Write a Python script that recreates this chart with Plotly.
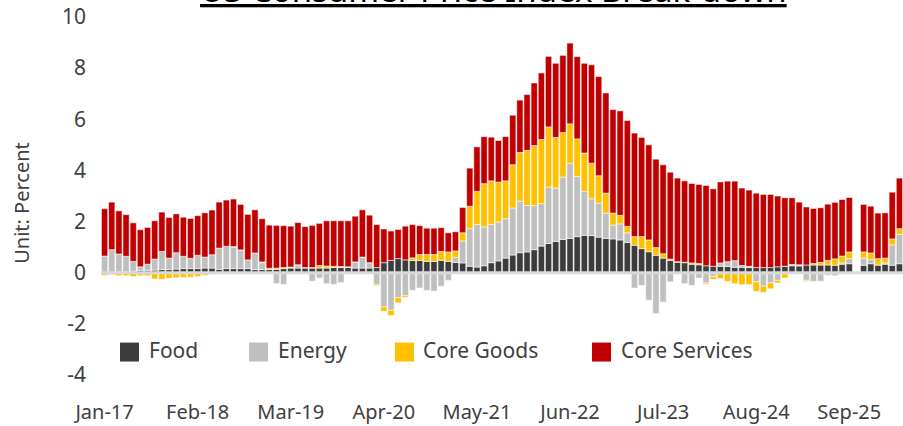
import pandas as pd
import plotly.graph_objects as go

# Month categories Jan-17 .. Apr-26 (Oct-25 has no data)
months = list(pd.date_range("2017-01-01", periods=112, freq="MS").strftime("%b-%y"))
tick_labels = ["Jan-17", "Feb-18", "Mar-19", "Apr-20", "May-21", "Jun-22", "Jul-23", "Aug-24", "Sep-25"]
y_ticks = [-4, -2, 0, 2, 4, 6, 8, 10]
y_tick_text = ["-4", "-2", "0", "2", "4", "6", "8", "10"]

food = [
    0.02, 0.02, 0.03, 0.03, 0.05, 0.09, 0.09, 0.10, 0.12, 0.12, 0.14, 0.16,
    0.16, 0.16, 0.18, 0.18, 0.13, 0.16, 0.16, 0.16, 0.16, 0.12, 0.12, 0.12,
    0.13, 0.16, 0.18, 0.18, 0.18, 0.18, 0.18, 0.18, 0.20, 0.20, 0.20, 0.18,
    0.18, 0.18, 0.20, 0.39, 0.48, 0.55, 0.50, 0.48, 0.48, 0.44, 0.44, 0.48,
    0.44, 0.40, 0.38, 0.25, 0.22, 0.27, 0.39, 0.46, 0.57, 0.69, 0.78, 0.81,
    0.90, 1.04, 1.14, 1.22, 1.30, 1.34, 1.41, 1.46, 1.45, 1.39, 1.34, 1.32,
    1.28, 1.18, 1.07, 0.94, 0.82, 0.68, 0.57, 0.48, 0.41, 0.39, 0.33, 0.31,
    0.27, 0.25, 0.25, 0.24, 0.21, 0.21, 0.20, 0.20, 0.20, 0.20, 0.23, 0.25,
    0.27, 0.26, 0.30, 0.30, 0.30, 0.30, 0.29, 0.33, 0.35, None, 0.29, 0.35,
    0.30, 0.33, 0.29, 0.35,
]

energy = [
    0.63, 0.88, 0.70, 0.61, 0.39, 0.14, 0.24, 0.43, 0.71, 0.45, 0.64, 0.48,
    0.40, 0.52, 0.43, 0.52, 0.83, 0.87, 0.84, 0.73, 0.34, 0.65, 0.27, -0.02,
    -0.43, -0.46, -0.02, 0.13, -0.05, -0.33, -0.21, -0.43, -0.46, -0.39, -0.05, 0.24,
    0.43, 0.21, -0.46, -1.34, -1.47, -0.98, -0.89, -0.69, -0.60, -0.69, -0.72, -0.53,
    -0.30, 0.19, 0.86, 1.47, 1.67, 1.52, 1.50, 1.52, 1.54, 1.84, 2.02, 1.82,
    1.72, 1.66, 2.21, 2.09, 2.44, 2.94, 2.35, 1.72, 1.44, 1.33, 0.99, 0.54,
    0.63, 0.38, -0.60, -0.50, -1.08, -1.60, -1.15, -0.36, -0.02, -0.43, -0.50, -0.21,
    -0.40, -0.15, 0.13, 0.19, 0.26, 0.07, 0.05, -0.36, -0.53, -0.40, -0.30, 0.00,
    0.05, 0.05, -0.30, -0.34, -0.33, -0.10, -0.12, 0.05, 0.20, None, 0.28, 0.16,
    0.00, 0.05, 0.80, 1.15,
]

core_goods = [
    -0.10, -0.08, -0.12, -0.12, -0.15, -0.12, -0.12, -0.25, -0.26, -0.22, -0.20, -0.19,
    -0.18, -0.15, -0.10, -0.06, -0.04, -0.02, 0.02, 0.00, -0.03, -0.02, 0.03, 0.05,
    0.05, 0.04, 0.04, 0.00, 0.02, 0.02, 0.10, 0.08, 0.05, 0.04, 0.03, 0.00,
    0.00, 0.00, -0.05, -0.17, -0.20, -0.20, -0.07, 0.10, 0.23, 0.27, 0.27, 0.35,
    0.37, 0.26, 0.32, 0.88, 1.29, 1.69, 1.70, 1.56, 1.48, 1.69, 1.90, 2.15,
    2.35, 2.51, 2.35, 1.98, 1.74, 1.54, 1.47, 1.50, 1.39, 1.07, 0.78, 0.47,
    0.33, 0.25, 0.34, 0.47, 0.46, 0.30, 0.17, 0.05, 0.02, 0.02, 0.05, 0.05,
    -0.05, -0.11, -0.23, -0.34, -0.43, -0.47, -0.47, -0.37, -0.24, -0.23, -0.10, -0.21,
    0.00, 0.00, -0.04, 0.06, 0.10, 0.18, 0.25, 0.27, 0.26, None, 0.24, 0.26,
    0.25, 0.19, 0.23, 0.22,
]

core_services = [
    1.85, 1.86, 1.69, 1.63, 1.51, 1.45, 1.44, 1.50, 1.54, 1.59, 1.52, 1.53,
    1.56, 1.55, 1.73, 1.75, 1.80, 1.81, 1.86, 1.78, 1.78, 1.69, 1.69, 1.69,
    1.67, 1.64, 1.60, 1.65, 1.60, 1.65, 1.65, 1.77, 1.78, 1.79, 1.80, 1.79,
    1.85, 1.86, 1.68, 1.32, 1.15, 1.14, 1.32, 1.30, 1.13, 1.03, 1.03, 0.93,
    0.75, 0.75, 0.99, 1.49, 1.74, 1.84, 1.71, 1.63, 1.73, 1.94, 2.05, 2.19,
    2.45, 2.60, 2.76, 2.90, 3.02, 3.16, 3.22, 3.51, 3.85, 3.88, 3.92, 4.05,
    4.09, 4.14, 4.05, 3.88, 3.72, 3.46, 3.48, 3.40, 3.27, 3.18, 3.11, 3.09,
    3.14, 3.03, 3.17, 3.15, 3.11, 3.03, 2.98, 2.91, 2.86, 2.86, 2.77, 2.68,
    2.61, 2.45, 2.27, 2.15, 2.14, 2.20, 2.21, 2.21, 2.13, None, 1.86, 1.83,
    1.78, 1.77, 1.83, 1.98,
]

series_names = ["Food", "Energy", "Core Goods", "Core Services"]
series_colors = ["#3c3c3c", "#bfbfbf", "#ffc000", "#c00000"]
series_values = [food, energy, core_goods, core_services]

FONT = "Noto Sans"
TXT = "#404040"

# layout geometry (pixels)
W, H = 903, 426
ML, MR, MT, MB = 101, 0, 17, 36.5
PW, PH = W - ML - MR, H - MT - MB


def px_x(p):
    return (p - ML) / PW


def px_y(p):
    return (H - MB - p) / PH


fig = go.Figure()
for name, color, vals in zip(series_names, series_colors, series_values):
    fig.add_trace(go.Bar(
        x=months, y=vals, name=name, showlegend=False,
        marker=dict(color=color, line=dict(color="rgba(255,255,255,0.55)", width=1)),
    ))

# zero line
fig.add_shape(type="line", xref="paper", yref="y", x0=0, x1=1, y0=0, y1=0,
              line=dict(color="#d9d9d9", width=3), layer="above")

# manual legend (large square swatches)
legend_sq_left = [120, 249, 395, 592]
legend_txt_left = [147, 276, 421, 619]
for name, color, sx, tx in zip(series_names, series_colors, legend_sq_left, legend_txt_left):
    fig.add_shape(type="rect", xref="paper", yref="paper",
                  x0=px_x(sx), x1=px_x(sx + 19), y0=px_y(362), y1=px_y(343),
                  fillcolor=color, line=dict(width=0))
    fig.add_annotation(text=name, xref="paper", yref="paper", x=px_x(tx), y=px_y(350),
                       xanchor="left", yanchor="middle", showarrow=False,
                       font=dict(family=FONT, size=21, color=TXT))

# title (mostly cut off at the top, underlined)
fig.add_annotation(text="<u>US Consumer Price Index Break-down</u>", xref="paper", yref="paper",
                   x=px_x(493), y=px_y(-10.5), xanchor="center", yanchor="middle", showarrow=False,
                   font=dict(family=FONT, size=33, color="#000000"))

fig.update_layout(
    width=W, height=H,
    margin=dict(l=ML, r=MR, t=MT, b=MB, pad=0, autoexpand=False),
    barmode="relative", bargap=0.12,
    plot_bgcolor="white", paper_bgcolor="white",
    font=dict(family=FONT, size=20, color=TXT),
    showlegend=False,
)
fig.update_xaxes(
    type="category", tickmode="array", tickvals=tick_labels, ticktext=tick_labels,
    showgrid=False, showline=False, zeroline=False, ticks="", ticklabelstandoff=9,
    tickfont=dict(family=FONT, size=20, color=TXT), tickangle=0, automargin=False,
)
fig.update_yaxes(
    range=[-4.55, 10], tickmode="array", tickvals=y_ticks, ticktext=y_tick_text,
    showgrid=False, showline=False, zeroline=False, ticks="", ticklabelstandoff=14,
    tickfont=dict(family=FONT, size=21, color=TXT), automargin=False,
    title=dict(text="Unit: Percent", font=dict(family=FONT, size=20, color=TXT), standoff=26),
)

fig.write_html("out.html", config={"displayModeBar": False},
               post_script="document.body.style.margin='0px';")
